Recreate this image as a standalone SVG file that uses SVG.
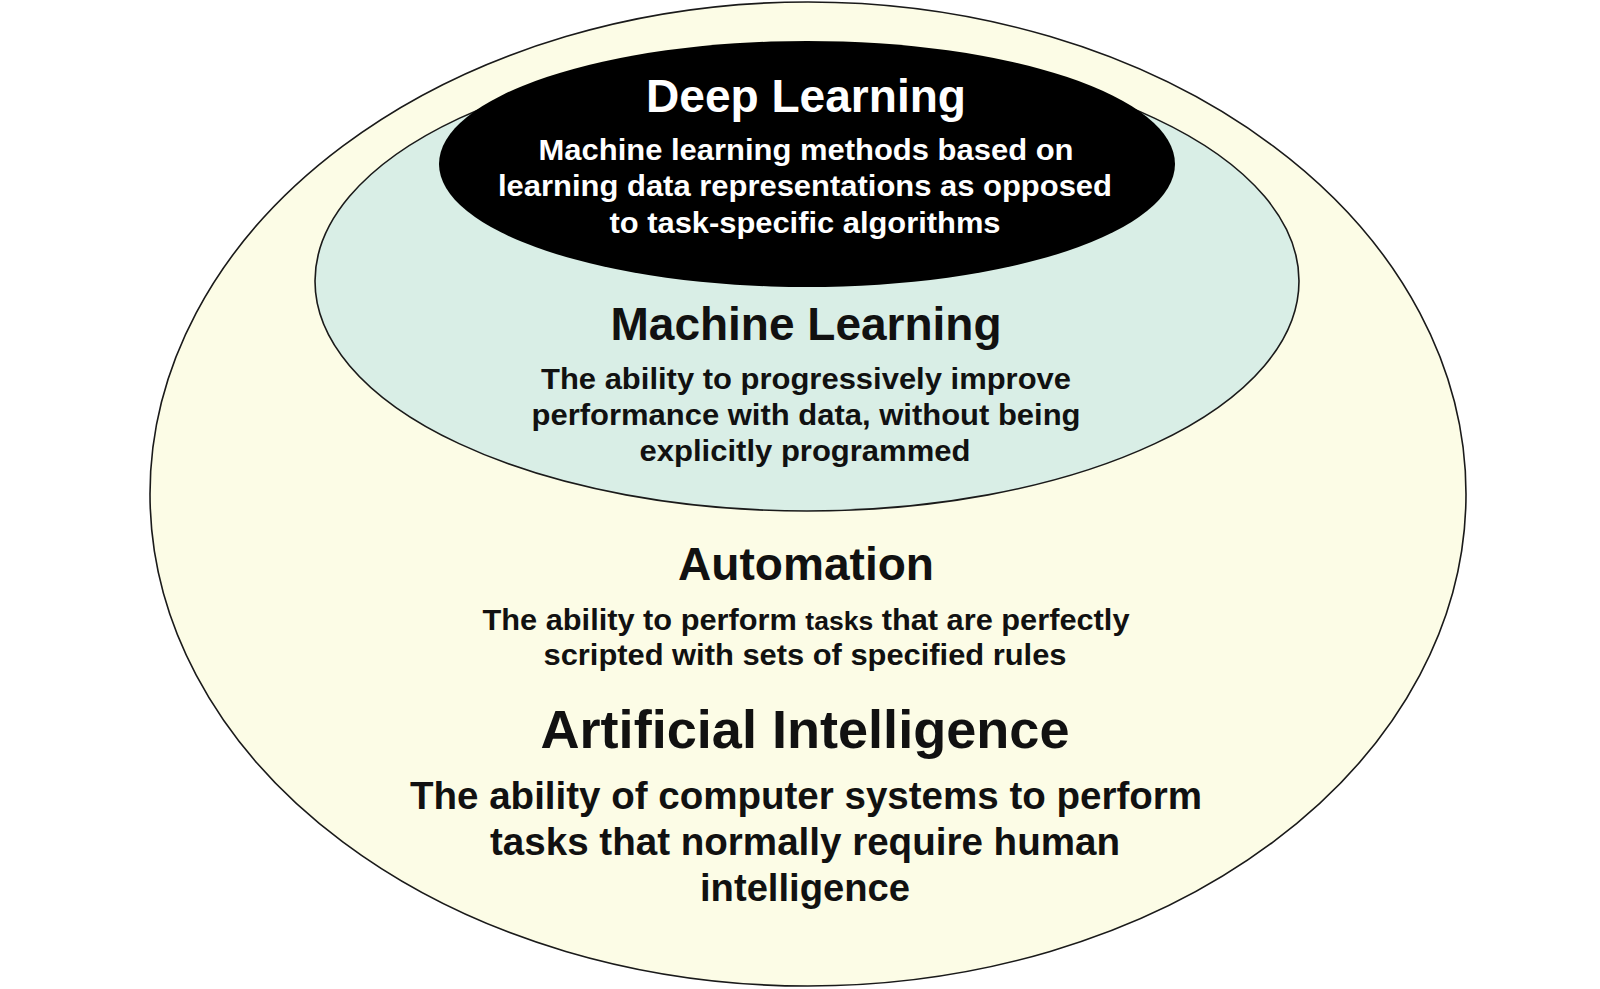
<svg xmlns="http://www.w3.org/2000/svg" width="1600" height="989" viewBox="0 0 1600 989">
<style>
text{font-family:"Liberation Sans",Arial,sans-serif;font-weight:bold;text-anchor:middle}
.h{font-size:46px}
.hb{font-size:54px}
.b{font-size:29px}
.bl{font-size:38px}
.dark{fill:#111}
.light{fill:#fff}
.ring{stroke:#1a1a1a;stroke-width:1.6}
</style>
<rect width="1600" height="989" fill="#fff"/>
<g id="ai">
<ellipse class="ring" cx="808" cy="494" rx="658" ry="492" fill="#FCFCE6"/>
</g>
<g id="ml">
<ellipse class="ring" cx="807" cy="281" rx="492" ry="230" fill="#D9EEE6"/>
<text class="h dark" x="806" y="340" textLength="391" lengthAdjust="spacingAndGlyphs">Machine Learning</text>
<text class="b dark" x="806" y="389" textLength="530" lengthAdjust="spacingAndGlyphs">The ability to progressively improve</text>
<text class="b dark" x="806" y="425" textLength="549" lengthAdjust="spacingAndGlyphs">performance with data, without being</text>
<text class="b dark" x="805" y="461" textLength="331" lengthAdjust="spacingAndGlyphs">explicitly programmed</text>
</g>
<g id="dl">
<ellipse cx="807" cy="164" rx="368" ry="123" fill="#000"/>
<text class="h light" x="806" y="112" textLength="320" lengthAdjust="spacingAndGlyphs">Deep Learning</text>
<text class="b light" x="806" y="160" textLength="535" lengthAdjust="spacingAndGlyphs">Machine learning methods based on</text>
<text class="b light" x="805" y="196" textLength="614" lengthAdjust="spacingAndGlyphs">learning data representations as opposed</text>
<text class="b light" x="805" y="233" textLength="391" lengthAdjust="spacingAndGlyphs">to task-specific algorithms</text>
</g>
<g id="automation">
<text class="h dark" x="806" y="580" textLength="256" lengthAdjust="spacingAndGlyphs">Automation</text>
<text class="b dark" x="806" y="630" textLength="647" lengthAdjust="spacingAndGlyphs">The ability to perform <tspan font-size="25">tasks</tspan> that are perfectly</text>
<text class="b dark" x="805" y="665" textLength="523" lengthAdjust="spacingAndGlyphs">scripted with sets of specified rules</text>
</g>
<g id="ai-text">
<text class="hb dark" x="805" y="748" textLength="529" lengthAdjust="spacingAndGlyphs">Artificial Intelligence</text>
<text class="bl dark" x="806" y="809" textLength="792" lengthAdjust="spacingAndGlyphs">The ability of computer systems to perform</text>
<text class="bl dark" x="805" y="855" textLength="630" lengthAdjust="spacingAndGlyphs">tasks that normally require human</text>
<text class="bl dark" x="805" y="901" textLength="210" lengthAdjust="spacingAndGlyphs">intelligence</text>
</g>
<g id="connectors"/>
</svg>
